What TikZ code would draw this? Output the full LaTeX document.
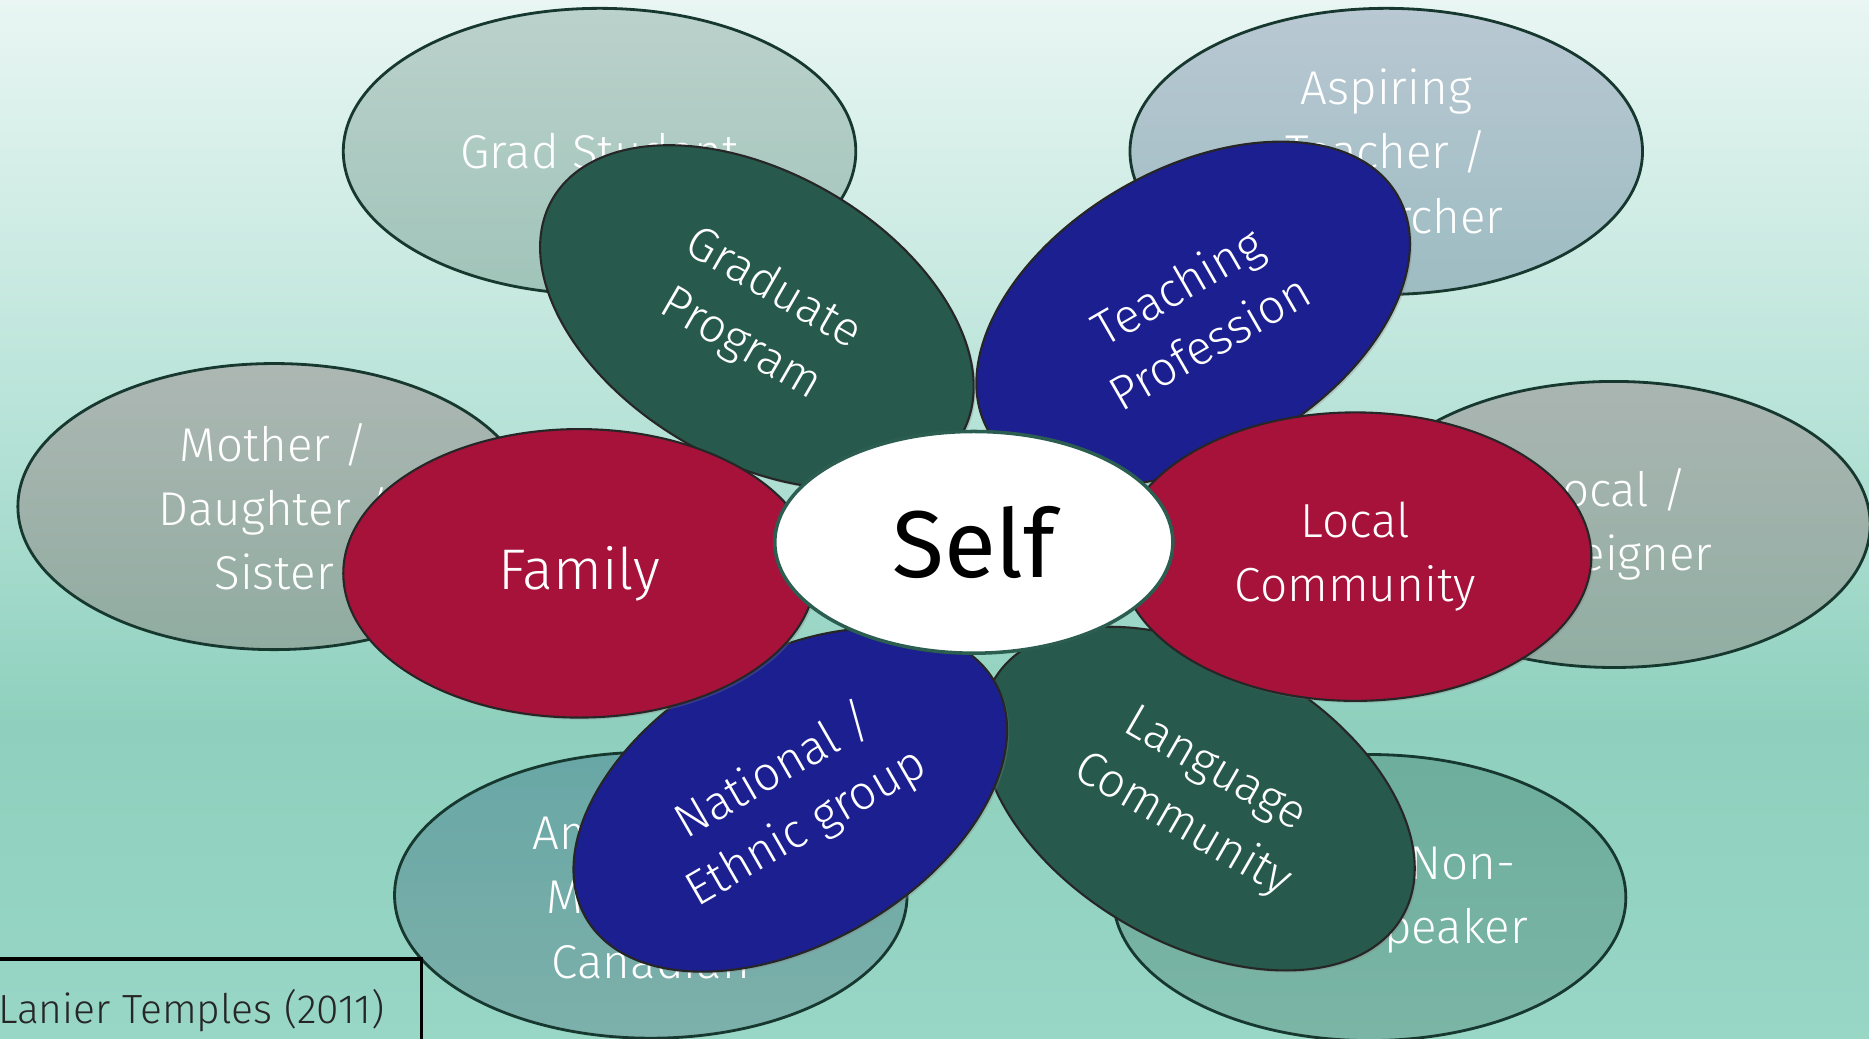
\documentclass[tikz,border=0pt]{standalone}
\usepackage{fontspec}
\setmainfont{Fira Sans}
\newfontfamily\thinfont{Fira Sans Light}
\usetikzlibrary{shapes.geometric,shadows}

\definecolor{bgtop}{HTML}{E9F6F3}
\definecolor{bgmid}{HTML}{B8E3D8}
\definecolor{bglow}{HTML}{8ED0BD}
\definecolor{bgbot}{HTML}{98D6C6}
\definecolor{rimline}{HTML}{17382F}
\definecolor{petalred}{HTML}{A6123A}
\definecolor{petalgreen}{HTML}{275A4C}
\definecolor{petalblue}{HTML}{1B1F8F}
\definecolor{selfline}{HTML}{2B5E50}
\definecolor{gradtop}{HTML}{BBD1CB}
\definecolor{gradbot}{HTML}{A0C4B9}
\definecolor{aspirtop}{HTML}{B9C8D3}
\definecolor{aspirbot}{HTML}{9DBCC2}
\definecolor{mothtop}{HTML}{ADB7B3}
\definecolor{mothbot}{HTML}{90ACA1}
\definecolor{foretop}{HTML}{AAB5B1}
\definecolor{forebot}{HTML}{91AEA3}
\definecolor{canatop}{HTML}{68A7A6}
\definecolor{canabot}{HTML}{7DB0AA}
\definecolor{speaktop}{HTML}{6DAE9C}
\definecolor{speakbot}{HTML}{7BB5A5}

\pgfdeclareverticalshading{bgshade}{100bp}{color(0bp)=(bgbot); color(25bp)=(bgbot); color(40bp)=(bglow); color(55bp)=(bgmid); color(75bp)=(bgtop); color(100bp)=(bgtop)}

\def\u{0.01192cm}

\tikzset{
  outer/.style={ellipse, draw=rimline, line width=0.8pt, minimum width=430*\u, minimum height=240*\u,
    inner sep=0pt, text=white, align=center, font=\thinfont\fontsize{13.5}{18.3}\selectfont},
  petal/.style={ellipse, draw=black!85, line width=0.6pt, minimum width=396*\u, minimum height=242*\u,
    inner sep=0pt, text=white, align=center, font=\thinfont\fontsize{13.6}{18.3}\selectfont,
    drop shadow={opacity=0.3, shadow xshift=0.6pt, shadow yshift=-0.6pt}},
  citebox/.style={draw=black, line width=1pt, minimum height=86*\u, inner xsep=31*\u,
    text=black!85, font=\thinfont\fontsize{11.6}{13}\selectfont}
}

\begin{document}
\begin{tikzpicture}[x=\u, y=-\u]
			%%%%% START %%%%%
			\useasboundingbox (0,0) rectangle (1568,871);
			\clip (0,0) rectangle (1568,871);
			\path[shading=bgshade] (0,0) rectangle (1568,871);

			% outer ring
			\node[outer, top color=gradtop, bottom color=gradbot] (gradstud) at (503,127) {Grad Student};
			\node[outer, top color=aspirtop, bottom color=aspirbot] (aspiring) at (1163,127) {Aspiring\\Teacher /\\Researcher};
			\node[outer, top color=mothtop, bottom color=mothbot] (mother) at (230,425) {Mother /\\Daughter /\\Sister};
			\node[outer, top color=foretop, bottom color=forebot] (foreigner) at (1354,440) {Local /\\Foreigner};
			\node[outer, top color=canatop, bottom color=canabot] (canadian) at (546,751) {American /\\Mexican /\\Canadian};
			\node[outer, top color=speaktop, bottom color=speakbot] (speaker) at (1149,753) {Native / Non-\\Native Speaker};

			% petals
			\node[petal, fill=petalgreen, rotate=-30] (language) at (1005,670) {Language\\Community};
			\node[petal, fill=petalblue, rotate=30] (national) at (663,671) {National /\\Ethnic group};
			\node[petal, fill=petalgreen, rotate=-30] (gradprog) at (635,266) {Graduate\\Program};
			\node[petal, fill=petalblue, rotate=30] (teaching) at (1001,263) {Teaching\\Profession};
			\node[petal, fill=petalred, font=\thinfont\fontsize{16.3}{20}\selectfont] (family) at (486,481) {Family};
			\node[petal, fill=petalred] (localcomm) at (1137,467) {Local\\Community};

			% centre
			\node[ellipse, draw=selfline, line width=1pt, fill=white, minimum width=334*\u, minimum height=186*\u,
			  inner sep=0pt, font=\fontsize{27}{30}\selectfont] (self) at (817,455) {Self};

			\node[citebox, anchor=north east] (cite) at (355,803) {Lanier Temples (2011)};
			%%%%% END %%%%%
\end{tikzpicture}
\end{document}
